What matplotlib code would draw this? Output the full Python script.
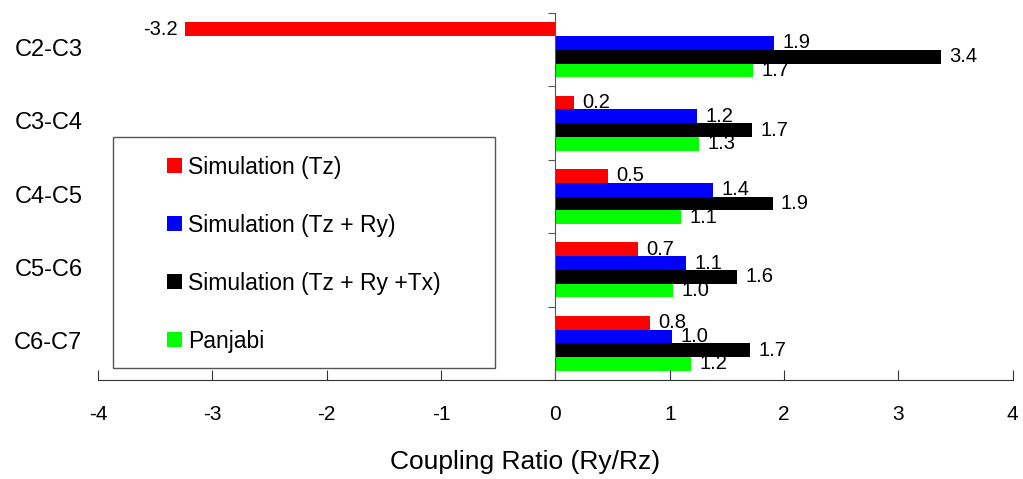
import numpy as np
import matplotlib
matplotlib.use("Agg")
from matplotlib import pyplot as plt
from matplotlib.patches import Rectangle
import matplotlib.transforms as mtransforms

plt.rcParams['font.family'] = ['Liberation Sans', 'DejaVu Sans']
plt.rcParams['axes.unicode_minus'] = False

segments = ['C2-C3', 'C3-C4', 'C4-C5', 'C5-C6', 'C6-C7']
sim_tz = [-3.24, 0.16, 0.46, 0.72, 0.83]
sim_tz_ry = [1.91, 1.24, 1.38, 1.14, 1.02]
sim_tz_ry_tx = [3.37, 1.72, 1.90, 1.59, 1.70]
panjabi = [1.73, 1.26, 1.10, 1.03, 1.19]

series = [
    ('Simulation (Tz)', sim_tz, '#ff0000'),
    ('Simulation (Tz + Ry)', sim_tz_ry, '#0000ff'),
    ('Simulation (Tz + Ry +Tx)', sim_tz_ry_tx, '#000000'),
    ('Panjabi', panjabi, '#00ff00'),
]

fig = plt.figure(figsize=(10.23, 4.79), dpi=100)
ax = fig.add_axes([0.0958, 0.2067, 0.8942, 0.766])

y = np.arange(len(segments))
h = 0.1875
handles = []
for i, (name, vals, col) in enumerate(series):
    pos = y + (i - 1.5) * h
    b = ax.barh(pos, vals, height=h, color=col, label=name)
    handles.append(b)
    for p, v in zip(pos, vals):
        if v < 0:
            ax.annotate(f"{v:.1f}", (v, p), xytext=(-5, 0), textcoords='offset points',
                        ha='right', va='center', fontsize=14.5)
        else:
            ax.annotate(f"{v:.1f}", (v, p), xytext=(6, 0), textcoords='offset points',
                        ha='left', va='center', fontsize=14.5)

ax.set_xlim(-4, 4)
ax.set_ylim(len(segments) - 0.5, -0.5)
ax.set_xticks(np.arange(-4, 5, 1))
ax.tick_params(axis='x', direction='in', length=7, pad=18, labelsize=15, color='#333333')
ax.set_xlabel('Coupling Ratio (Ry/Rz)', fontsize=19, labelpad=19)
ax.xaxis.label.set_x(0.467)

# y axis sits at x = 0, ticks mark group boundaries
ax.spines['left'].set_position(('data', 0))
ax.spines['left'].set_color('#555555')
ax.spines['bottom'].set_color('#333333')
ax.spines['top'].set_visible(False)
ax.spines['right'].set_visible(False)
ax.set_yticks(np.arange(len(segments) + 1) - 0.5)
ax.set_yticklabels([])
ax.tick_params(axis='y', direction='out', length=5, color='#555555')

trans = mtransforms.blended_transform_factory(ax.transAxes, ax.transData)
for yi, s in zip(y, segments):
    ax.text(-0.017, yi, s, transform=trans, ha='right', va='center', fontsize=17)

leg = ax.legend(handles=handles, loc='upper left', bbox_to_anchor=(0.0634, 0.643),
                frameon=False, fontsize=16.5, labelspacing=1.53, handlelength=0.65,
                handleheight=0.65, handletextpad=0.25, borderpad=0)
ax.add_patch(Rectangle((0.0164, 0.033), 0.4175, 0.629, transform=ax.transAxes,
                       fill=False, edgecolor='#555555', linewidth=1, clip_on=False))

fig.savefig('out.png', dpi=100)
